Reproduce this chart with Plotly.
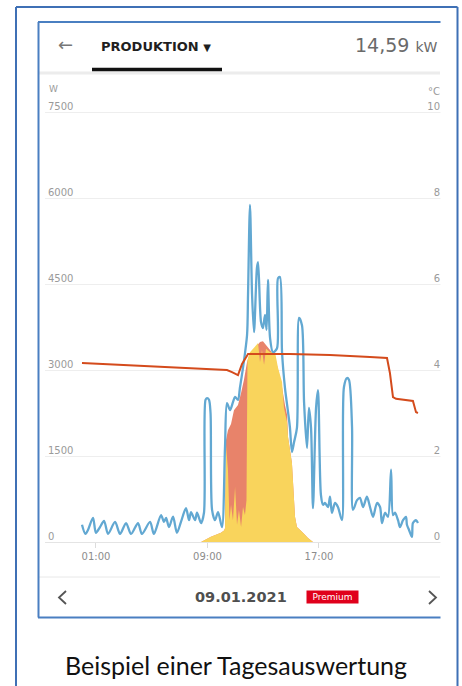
import plotly.graph_objects as go

# ---------------- data ----------------
# consumption (blue line), W, hours of day
cons_h = [0.00, 0.24, 0.43, 0.79, 1.00, 1.29, 1.58, 1.87, 2.37, 2.73, 3.16, 3.52, 4.02, 4.30,
          4.88, 5.16, 5.67, 5.88, 6.03, 6.24, 6.53, 6.81, 7.10, 7.46, 7.68, 7.82, 8.11, 8.25,
          8.54, 8.75, 8.86, 8.97, 9.11, 9.22, 9.33, 9.54, 9.76, 10.04, 10.26, 10.40, 10.62,
          10.83, 10.98, 11.19, 11.33, 11.55, 11.84, 11.91, 12.05, 12.20, 12.34, 12.55, 12.63,
          12.84, 12.98, 13.13, 13.24, 13.34, 13.49, 13.70, 13.99, 14.06, 14.20, 14.35, 14.56,
          14.78, 14.92, 15.06, 15.21, 15.42, 15.57, 15.78, 15.93, 16.14, 16.28, 16.43, 16.57,
          16.79, 16.93, 17.14, 17.29, 17.43, 17.65, 17.79, 17.93, 18.15, 18.36, 18.65, 18.79,
          19.01, 19.15, 19.37, 19.44, 19.73, 19.94, 20.16, 20.44, 20.66, 20.88, 21.16, 21.38,
          21.52, 21.74, 21.95, 22.17, 22.31, 22.45, 22.67, 22.81, 23.03, 23.24, 23.31, 23.46,
          23.67, 23.74, 23.96, 24.10]
cons_w = [300, 140, 210, 420, 160, 260, 370, 140, 350, 140, 330, 140, 330, 140,
          350, 140, 470, 350, 420, 260, 440, 160, 350, 590, 380, 520, 380, 510,
          330, 510, 2480, 2510, 2480, 2250, 560, 380, 520, 260, 1660, 2420, 2300,
          2440, 2530, 2480, 2690, 3040, 3610, 4310, 5880, 4310, 3660, 4780, 4880,
          3840, 3730, 3960, 3700, 4570, 3560, 3310, 3380, 4600, 4620, 3310, 2690,
          2270, 1990, 1570, 1740, 1990, 3910, 3780, 2440, 1640, 2340, 1990, 590,
          2340, 2650, 820, 650, 680, 610, 790, 510, 680, 610, 380, 2700,
          2860, 2830, 2010, 560, 730, 770, 610, 790, 610, 440, 680, 610,
          330, 510, 440, 1260, 470, 510, 380, 260, 380, 440, 300, 210,
          90, 330, 380, 330]

# total production (orange area), W
prod_h = [8.54, 9.25, 9.97, 10.19, 10.26, 10.33, 10.47, 10.69, 10.90, 11.19, 11.41, 11.62,
          11.84, 12.05, 12.41, 12.77, 12.98, 13.20, 13.49, 13.85, 14.06, 14.35, 14.56, 14.71,
          14.78, 15.06, 15.28, 15.42, 15.85, 16.21, 16.57]
prod_w = [0, 90, 160, 200, 240, 1780, 1950, 2060, 2300, 2390, 2600, 2830,
          3140, 3300, 3380, 3490, 3500, 3440, 3350, 3230, 3000, 2700, 2390, 2220,
          1830, 1380, 440, 260, 160, 70, 0]

# self used production (yellow area), W
self_h = [8.54, 9.25, 9.97, 10.19, 10.26, 10.33, 10.47, 10.58, 10.69, 10.83, 10.98, 11.12,
          11.26, 11.41, 11.55, 11.69, 11.80, 11.87, 12.05, 12.41, 12.63, 12.77, 12.91, 13.06,
          13.20, 13.49, 13.85, 14.06, 14.35, 14.49, 14.71, 14.78, 15.06, 15.28, 15.42, 15.85,
          16.21, 16.57]
self_w = [0, 90, 160, 200, 240, 1690, 1260, 380, 650, 380, 960, 300,
          560, 260, 610, 470, 730, 3170, 3310, 3400, 3470, 3140, 3350, 3090,
          3370, 3310, 3310, 3040, 2790, 2340, 2090, 1830, 1380, 440, 260, 160,
          70, 0]

# temperature (red line), °C
temp_h = [0.0, 2.73, 5.6, 8.46, 10.4, 10.76, 11.19, 11.48, 11.91, 14.92, 17.79, 20.66,
          21.88, 22.09, 22.31, 22.53, 23.74, 23.96, 24.1]
temp_c = [4.16, 4.12, 4.07, 4.02, 4.0, 3.95, 3.88, 4.14, 4.37, 4.37, 4.35, 4.30,
          4.28, 3.93, 3.37, 3.33, 3.28, 3.02, 3.0]

y_ticks = [0, 1500, 3000, 4500, 6000, 7500]
y2_ticks = [0, 2, 4, 6, 8, 10]
y2_labels = ["0", "2", "4", "6", "8", "10"]
x_ticks = [1, 9, 17]
x_labels = ["01:00", "09:00", "17:00"]

# ---------------- layout helpers ----------------
FW, FH = 462, 686


def px(x):
    return x / FW


def py(y):
    return 1 - y / FH


FONT = "DejaVu Sans"
BLUE = "#62a8d2"
RED = "#d44b1c"
ORANGE = "#e8836a"
YELLOW = "#f9d45c"

fig = go.Figure()
fig.add_trace(go.Scatter(x=prod_h, y=prod_w, mode="lines", fill="tozeroy",
                         fillcolor=ORANGE, line=dict(width=0, color=ORANGE),
                         hoverinfo="skip", showlegend=False))
fig.add_trace(go.Scatter(x=self_h, y=self_w, mode="lines", fill="tozeroy",
                         fillcolor=YELLOW, line=dict(width=0, color=YELLOW),
                         hoverinfo="skip", showlegend=False))
fig.add_trace(go.Scatter(x=cons_h, y=cons_w, mode="lines",
                         line=dict(color=BLUE, width=2.3, shape="spline", smoothing=0.8),
                         hoverinfo="skip", showlegend=False))
fig.add_trace(go.Scatter(x=temp_h, y=temp_c, mode="lines", yaxis="y2",
                         line=dict(color=RED, width=2),
                         hoverinfo="skip", showlegend=False))

left_px, right_px = 45, 443
top_px, bottom_px = 80, 542
h_per_px = 1 / 13.94
x_range = [(left_px - 82) * h_per_px, (right_px - 82) * h_per_px]
w_per_px = 1500 / 86
y_top = (bottom_px - top_px) * w_per_px

fig.update_layout(
    width=FW, height=FH,
    margin=dict(l=0, r=0, t=0, b=0),
    paper_bgcolor="white", plot_bgcolor="white",
    xaxis=dict(domain=[px(left_px), px(right_px)], range=x_range,
               tickvals=x_ticks, ticktext=x_labels, showgrid=False, zeroline=False,
               showline=True, linecolor="#e4e4e4", linewidth=1,
               ticks="outside", ticklen=5, tickcolor="#dcdcdc",
               tickfont=dict(family=FONT, size=10, color="#8c8c8c")),
    yaxis=dict(domain=[py(bottom_px), py(top_px)], range=[0, y_top],
               tickvals=y_ticks, showgrid=True, gridcolor="#eeeeee", gridwidth=1,
               zeroline=False, showline=False, ticks="",
               ticklabelposition="inside", ticklabelshift=-6,
               tickfont=dict(family=FONT, size=10, color="#9a9a9a")),
    yaxis2=dict(overlaying="y", side="right", range=[0, y_top / 750],
                tickvals=y2_ticks + [10.33], ticktext=y2_labels + ["°C"],
                showgrid=False, zeroline=False, showline=False, ticks="",
                ticklabelposition="inside", ticklabelshift=-6,
                tickfont=dict(family=FONT, size=10, color="#9a9a9a")),
)

shapes = []


def line(x0, y0, x1, y1, color, width):
    shapes.append(dict(type="line", xref="paper", yref="paper",
                       x0=px(x0), y0=py(y0), x1=px(x1), y1=py(y1),
                       line=dict(color=color, width=width), layer="above"))


def path(points, color, width):
    d = "M " + " L ".join(f"{px(a):.5f},{py(b):.5f}" for a, b in points)
    shapes.append(dict(type="path", xref="paper", yref="paper", path=d,
                       line=dict(color=color, width=width), layer="above"))


# white cover clipping the phone screenshot at its right edge
shapes.append(dict(type="rect", xref="paper", yref="paper",
                   x0=px(440.5), x1=px(456), y0=py(618), y1=py(22),
                   fillcolor="white", line=dict(width=0), layer="above"))
# header shadow + tab underline
line(39, 73, 440, 73, "#ececec", 3)
line(92, 69.5, 222, 69.5, "#111111", 3.5)
# bottom separator
line(39, 577, 440, 577, "#e8e8e8", 1)
# chevrons
path([(66, 591), (59, 597.5), (66, 604)], "#555555", 1.8)
path([(429, 591), (436, 597.5), (429, 604)], "#555555", 1.8)
# inner frame (screenshot border)
line(38.5, 22, 38.5, 617.5, "#4a7fc1", 2)
line(38, 22, 440.5, 22, "#4a7fc1", 2)
line(38, 617.5, 440.5, 617.5, "#4a7fc1", 2)
# outer frame
line(16, 7, 16, 700, "#3f70b5", 2)
line(16, 7, 457.5, 7, "#3f70b5", 2)
line(457.5, 7, 457.5, 700, "#3f70b5", 2)

annotations = [
    dict(x=px(65), y=py(45), text="←", font=dict(family=FONT, size=18, color="#777777"),
         xanchor="center", yanchor="middle"),
    dict(x=px(99), y=py(46), text="<b>PRODUKTION <span style='font-size:10px'>▼</span></b>",
         font=dict(family=FONT, size=13, color="#1f1f1f"), xanchor="left", yanchor="middle"),
    dict(x=px(440), y=py(45), text="14,59 <span style='font-size:14px'>kW</span>",
         font=dict(family=FONT, size=19, color="#6a6a6a"), xanchor="right", yanchor="middle"),
    dict(x=px(47), y=py(89), text="W", font=dict(family=FONT, size=9, color="#9a9a9a"),
         xanchor="left", yanchor="middle"),
    dict(x=px(241), y=py(597), text="<b>09.01.2021</b>",
         font=dict(family=FONT, size=14.5, color="#4f4f4f"), xanchor="center", yanchor="middle"),
    dict(x=px(332.5), y=py(597), text="Premium", width=51, height=12,
         bgcolor="#e0001b", font=dict(family=FONT, size=9, color="white"),
         xanchor="center", yanchor="middle", borderpad=0),
    dict(x=px(236), y=py(665), text="Beispiel einer Tagesauswertung",
         font=dict(family="Lato", size=25, color="#111111"), xanchor="center", yanchor="middle"),
]
for a in annotations:
    a.update(xref="paper", yref="paper", showarrow=False)

fig.update_layout(shapes=shapes, annotations=annotations, hovermode=False)
fig.write_html("out.html", config={"displayModeBar": False},
               post_script="document.body.style.margin='0';")
